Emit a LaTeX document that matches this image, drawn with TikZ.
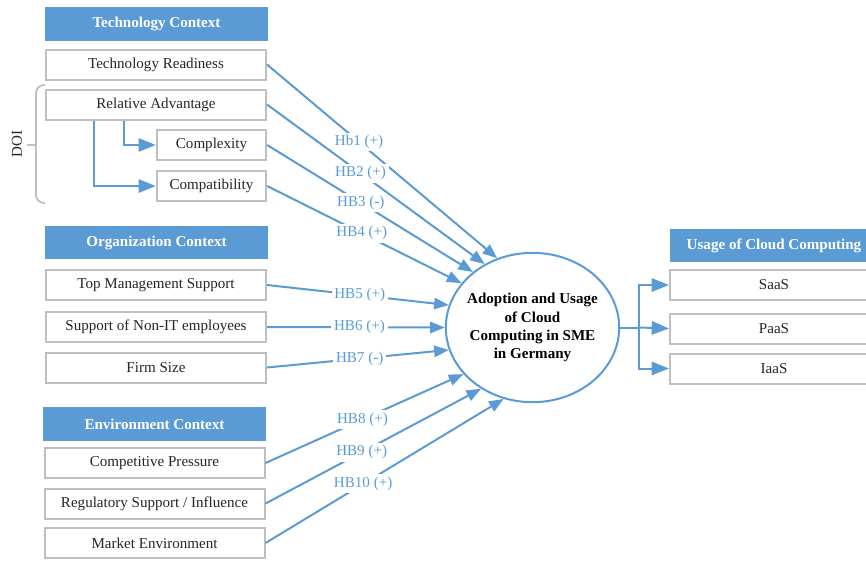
\documentclass[tikz,border=0pt]{standalone}
\usepackage{fontspec}
\setmainfont{Liberation Serif}
\usetikzlibrary{arrows.meta,shapes.geometric}

\definecolor{ppblue}{HTML}{5B9BD5}
\definecolor{boxgray}{HTML}{BFBFBF}
\definecolor{txtgray}{HTML}{262626}

\tikzset{every picture/.style={line width=0.75pt}}
\tikzset{
	ctxhead/.style={fill=ppblue, text=white, font=\fontsize{11.3}{13.5}\selectfont\bfseries, minimum width=167pt, minimum height=25pt, inner sep=0pt},
	factor/.style={draw=boxgray, line width=1.5pt, fill=white, text=txtgray, font=\fontsize{11.3}{13.5}\selectfont, minimum width=165pt, minimum height=22.5pt, inner sep=0pt},
	subfactor/.style={factor, minimum width=82pt},
	usebox/.style={factor, minimum width=156pt},
	hyp/.style={draw=ppblue, line width=1.5pt, -{Triangle[length=11pt,width=8.5pt]}},
	hyplabel/.style={fill=white, text=ppblue, inner sep=2pt, font=\fontsize{11.3}{13.5}\selectfont},
	branch/.style={draw=ppblue, line width=1.5pt, -{Triangle[length=13pt,width=10pt]}},
	doibrace/.style={draw=boxgray, line width=1.4pt, rounded corners=6pt}
}

\begin{document}
\begin{tikzpicture}[x=0.75pt,y=0.75pt,yscale=-1,xscale=1]
	\clip (0,0) rectangle (866,561);

	%Shape: Technology context
	\node[ctxhead] (tch) at (156.5,24) {Technology Context};
	\node[factor] (tr) at (156,64.5) {Technology Readiness};
	\node[factor] (ra) at (156,104.5) {Relative Advantage};
	\node[subfactor] (cx) at (211.5,145) {Complexity};
	\node[subfactor] (cp) at (211.5,186) {Compatibility};
	%Shape: DOI bracket
	\draw[doibrace] (45,85) -- (36,85) -- (36,203) -- (45,203);
	\draw[doibrace] (36,145) -- (27,145);
	\node[rotate=90, text=txtgray, font=\fontsize{11.3}{13.5}\selectfont] (doi) at (17,144) {DOI};
	\draw[branch] ([xshift=36.75pt]ra.south west) |- (cp.west);
	\draw[branch] ([xshift=59.25pt]ra.south west) |- (cx.west);

	%Shape: Organization context
	\node[ctxhead] (och) at (156.5,242.5) {Organization Context};
	\node[factor] (tms) at (156,285) {Top Management Support};
	\node[factor] (nit) at (156,327) {Support of Non-IT employees};
	\node[factor] (fs) at (156,367.5) {Firm Size};

	%Shape: Environment context
	\node[ctxhead] (ech) at (154.5,424) {Environment Context};
	\node[factor] (cpr) at (154.5,463) {Competitive Pressure};
	\node[factor] (reg) at (154.5,503.5) {Regulatory Support / Influence};
	\node[factor] (mkt) at (154.5,543) {Market Environment};

	%Shape: Ellipse
	\node[ellipse, draw=ppblue, line width=1.5pt, minimum width=130pt, minimum height=112pt, inner sep=0pt] (adopt) at (532.5,327.5) {};
	\node[align=center, font=\fontsize{11.3}{13.6}\selectfont\bfseries] (adopttxt) at (adopt.center) {Adoption and Usage\\of Cloud\\Computing in SME\\in Germany};

	%Shape: Usage of cloud computing
	\node[ctxhead, minimum width=156pt] (uch) at (774,245.5) {Usage of Cloud Computing};
	\node[usebox] (saas) at (774,285) {SaaS};
	\node[usebox] (paas) at (774,328.5) {PaaS};
	\node[usebox] (iaas) at (774,368.5) {IaaS};

	%Straight Lines: hypotheses
	\draw[hyp] (tr.east) -- node[hyplabel, pos=0.40] (hb1) {Hb1 (+)} (adopt.117);
	\draw[hyp] (ra.east) -- node[hyplabel, pos=0.43] (hb2) {HB2 (+)} (adopt.127.5);
	\draw[hyp] (cx.east) -- node[hyplabel, pos=0.455] (hb3) {HB3 (-)} (adopt.137.5);
	\draw[hyp] (cp.east) -- node[hyplabel, pos=0.487] (hb4) {HB4 (+)} (adopt.148);
	\draw[hyp] (tms.east) -- node[hyplabel, pos=0.51] (hb5) {HB5 (+)} (adopt.165);
	\draw[hyp] (nit.east) -- node[hyplabel, pos=0.52] (hb6) {HB6 (+)} (adopt.180);
	\draw[hyp] (fs.east) -- node[hyplabel, pos=0.51] (hb7) {HB7 (-)} (adopt.195);
	\draw[hyp] (cpr.east) -- node[hyplabel, pos=0.49] (hb8) {HB8 (+)} (adopt.214);
	\draw[hyp] (reg.east) -- node[hyplabel, pos=0.446] (hb9) {HB9 (+)} (adopt.230);
	\draw[hyp] (mkt.east) -- node[hyplabel, pos=0.41] (hb10) {HB10 (+)} (adopt.248);

	%Straight Lines: usage
	\draw[draw=ppblue, line width=1.5pt] (adopt.east) -- ++(19,0) coordinate (split);
	\draw[branch] (split) |- (saas.west);
	\draw[branch] (split) -- (paas.west);
	\draw[branch] (split) |- (iaas.west);

\end{tikzpicture}
\end{document}
